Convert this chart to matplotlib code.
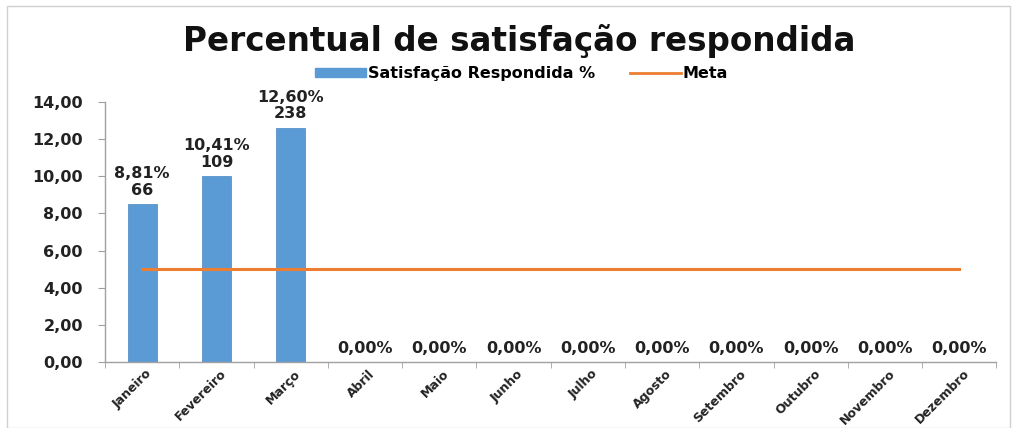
import matplotlib
matplotlib.use("Agg")
import matplotlib.pyplot as plt
from matplotlib.patches import Rectangle
from matplotlib.lines import Line2D
from matplotlib.transforms import ScaledTranslation
import numpy as np

months = ["Janeiro", "Fevereiro", "Março", "Abril", "Maio", "Junho", "Julho",
          "Agosto", "Setembro", "Outubro", "Novembro", "Dezembro"]
bar_values = [8.5, 10.0, 12.6, 0, 0, 0, 0, 0, 0, 0, 0, 0]
pct_labels = ["8,81%", "10,41%", "12,60%", "0,00%", "0,00%", "0,00%", "0,00%",
              "0,00%", "0,00%", "0,00%", "0,00%", "0,00%"]
counts = [66, 109, 238, None, None, None, None, None, None, None, None, None]
meta = [5] * 12
yticks = [0, 2, 4, 6, 8, 10, 12, 14]

plt.rcParams['font.family'] = ['DejaVu Sans']
fig = plt.figure(figsize=(10.13, 4.28), dpi=100)
fig.patch.set_facecolor("white")
fig.add_artist(Rectangle((0.007, 0.0), 0.99, 0.985, transform=fig.transFigure,
                         fill=False, edgecolor="#d0d0d0", linewidth=1))

ax = fig.add_axes([0.1037, 0.154, 0.880, 0.608])
x = np.arange(len(months))
blue = "#5B9BD5"
orange = "#ED7D31"
ax.bar(x, bar_values, width=0.39, color=blue, edgecolor="#4a86c0", linewidth=0.5, zorder=2)
ax.plot(x, meta, color=orange, linewidth=2.2, zorder=3)

for xi, v, p, c in zip(x, bar_values, pct_labels, counts):
    txt = p if c is None else f"{p}\n{c}"
    ax.text(xi, v + 0.35, txt, ha="center", va="bottom", fontsize=11.5,
            fontweight="bold", color="#222222", linespacing=1.15)

ax.set_xlim(-0.5, len(months) - 0.5)
ax.set_ylim(0, 14)
ax.set_yticks(yticks)
ax.set_yticklabels([f"{t:.2f}".replace(".", ",") for t in yticks],
                   fontsize=11.5, fontweight="bold", color="#222222")
ax.set_xticks(x)
ax.set_xticklabels(months, rotation=45, ha="right", va="center", rotation_mode="anchor",
                   fontsize=9, fontweight="bold", color="#222222")
ax.set_xticks(np.arange(-0.5, len(months), 1), minor=True)
ax.tick_params(axis="x", which="major", length=0, pad=7)
ax.tick_params(axis="x", which="minor", length=4, color="#a0a0a0", direction="out")
ax.tick_params(axis="y", length=5, color="#a0a0a0", pad=11)
off = ScaledTranslation(8 / 100, 0, fig.dpi_scale_trans)
for lab in ax.get_xticklabels():
    lab.set_transform(lab.get_transform() + off)
for s in ["top", "right"]:
    ax.spines[s].set_visible(False)
for s in ["left", "bottom"]:
    ax.spines[s].set_color("#a0a0a0")
    ax.spines[s].set_linewidth(1)

fig.text(0.513, 0.905, "Percentual de satisfação respondida", ha="center", va="center",
         fontsize=23.5, fontweight="bold", color="#111111")

handles = [Rectangle((0, 0), 1, 1, color=blue), Line2D([0], [0], color=orange, linewidth=2)]
leg = fig.legend(handles, ["Satisfação Respondida %", "Meta"], loc="center",
                 bbox_to_anchor=(0.515, 0.828), ncol=2, frameon=False,
                 prop={"size": 11.5, "weight": "bold"}, handlelength=3.2,
                 handleheight=0.5, columnspacing=2.2, handletextpad=0.1)

fig.savefig("out.png", dpi=100)
